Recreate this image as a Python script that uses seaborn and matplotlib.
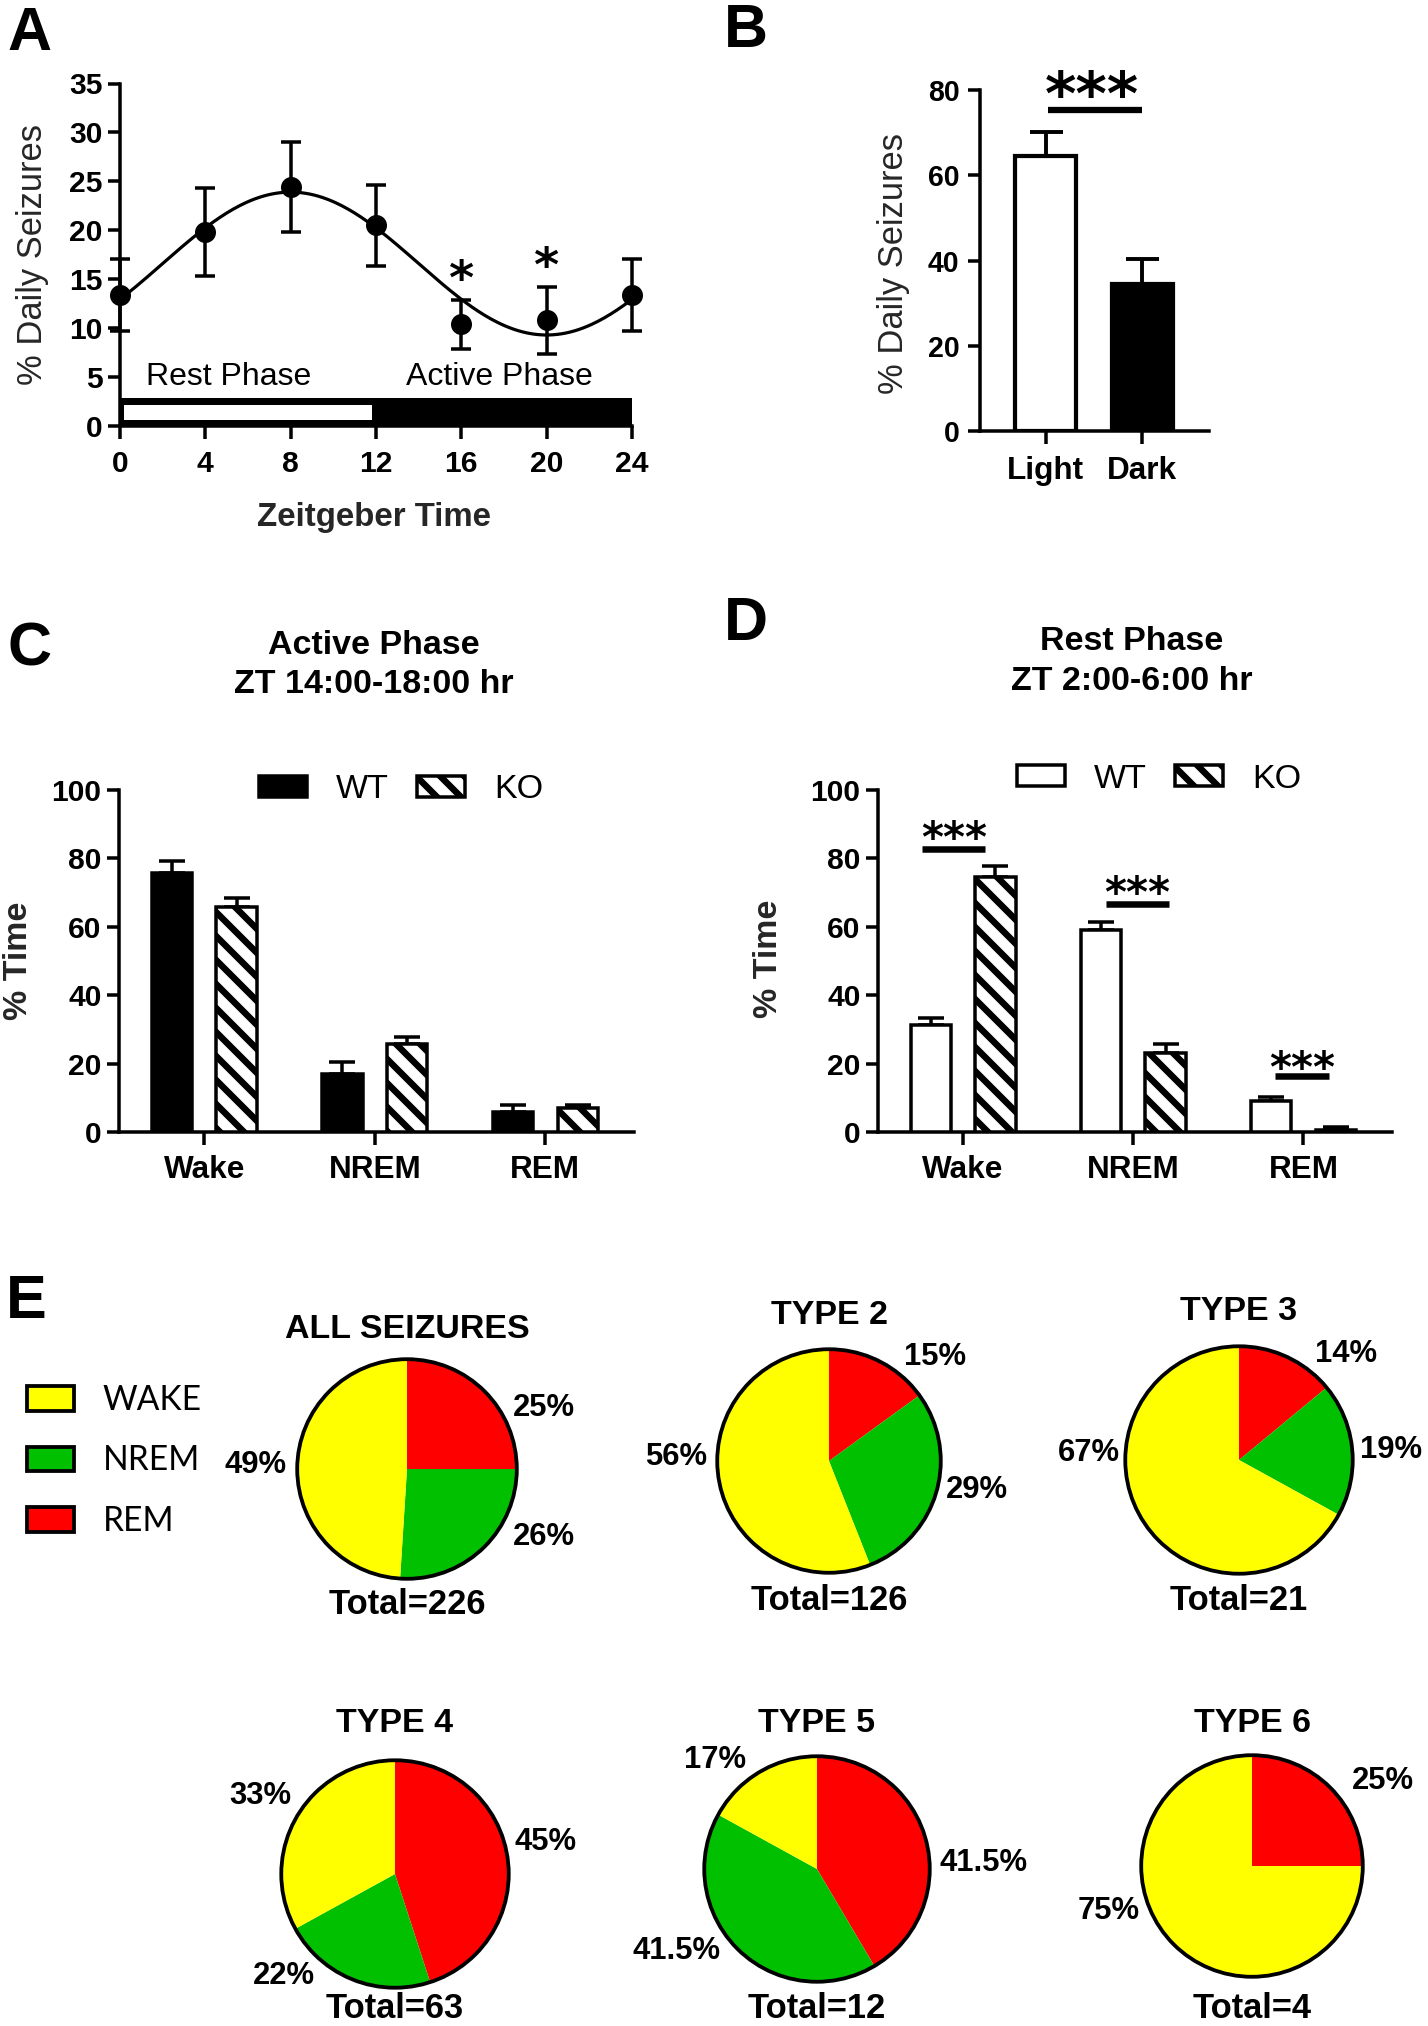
import numpy as np
import pandas as pd
import matplotlib
matplotlib.use("Agg")
import matplotlib.pyplot as plt
import seaborn as sns
from matplotlib.patches import Patch, Rectangle, Circle

# ---------------- DATA ----------------
# Panel A: % daily seizures by Zeitgeber time (mean, SEM)
zt_hours = [0, 4, 8, 12, 16, 20, 24]
seizure_pct = [13.4, 19.8, 24.4, 20.5, 10.4, 10.8, 13.4]
seizure_sem = [3.7, 4.5, 4.6, 4.1, 2.5, 3.4, 3.7]
sig_zt = [16, 20]
# cosinor fit drawn through the points (parameters)
cosinor_mesor = 16.6
cosinor_amplitude = 7.3
cosinor_acrophase = 8.0
cosinor_period = 24.0
rest_phase = (0, 12)
active_phase = (12, 24)

# Panel B
ld_labels = ["Light", "Dark"]
ld_pct = [64.5, 34.4]
ld_sem = [5.6, 5.9]

# Panels C & D
states = ["Wake", "NREM", "REM"]
active_wt = [75.8, 16.9, 5.8]
active_wt_sem = [3.3, 3.7, 2.0]
active_ko = [65.9, 25.8, 7.0]
active_ko_sem = [2.4, 2.1, 0.9]
rest_wt = [31.4, 59.1, 9.1]
rest_wt_sem = [2.0, 2.3, 1.0]
rest_ko = [74.7, 23.0, 0.6]
rest_ko_sem = [3.0, 2.8, 0.9]

# Panel E
pie_titles = ["ALL SEIZURES", "TYPE 2", "TYPE 3", "TYPE 4", "TYPE 5", "TYPE 6"]
pie_totals = [226, 126, 21, 63, 12, 4]
pie_rem = [25, 15, 14, 45, 41.5, 25]
pie_nrem = [26, 29, 19, 22, 41.5, 0]
pie_wake = [49, 56, 67, 33, 17, 75]
sleep_labels = ["WAKE", "NREM", "REM"]

# ---------------- STYLE / LAYOUT ----------------
# figure at 72 dpi, so every size in points equals pixels
sns.set_style("ticks")
plt.rcParams.update({
    "font.family": ["Liberation Sans", "DejaVu Sans"],
    "axes.linewidth": 3.5,
    "axes.edgecolor": "black",
    "xtick.major.width": 3.5,
    "ytick.major.width": 3.5,
    "xtick.major.size": 12.5,
    "ytick.major.size": 12.5,
    "xtick.color": "black",
    "ytick.color": "black",
    "text.color": "black",
    "hatch.linewidth": 6.5,
    "hatch.color": "black",
})

W, H = 1428, 2026
DPI = 72
fig = plt.figure(figsize=(W / DPI, H / DPI), dpi=DPI)


def rect(l, t, r, b):
    return [l / W, 1 - b / H, (r - l) / W, (b - t) / H]


YELLOW, GREEN, RED = "#FFFF00", "#00C000", "#FF0000"
STAR = dict(family="DejaVu Sans", fontweight="bold", ha="center", va="baseline")


def stars(ax, x, y, text, size):
    ax.annotate(text, xy=(x, y), xytext=(0, -0.57 * size), textcoords="offset points",
                fontsize=size, annotation_clip=False, **STAR)


def letter(x, baseline, s):
    fig.text(x / W, 1 - baseline / H, s, fontsize=61, fontweight="bold", va="baseline", ha="left")


# ---------------- PANEL A ----------------
axA = fig.add_axes(rect(120, 83.5, 632, 426))
grid = np.linspace(0, 24, 241)
fit = cosinor_mesor + cosinor_amplitude * np.cos(2 * np.pi * (grid - cosinor_acrophase) / cosinor_period)
bar_h = 2.86
axA.add_patch(Rectangle((rest_phase[0], 0), active_phase[1] - rest_phase[0], bar_h,
                        facecolor="black", edgecolor="none", zorder=2, clip_on=False))
axA.add_patch(Rectangle((rest_phase[0] + 0.2, 0.6), rest_phase[1] - rest_phase[0] - 0.4, 1.55,
                        facecolor="white", edgecolor="none", zorder=2.1))
sns.lineplot(x=grid, y=fit, ax=axA, color="black", linewidth=3.2, zorder=3)
axA.errorbar(zt_hours, seizure_pct, yerr=seizure_sem, fmt="none", ecolor="black",
             elinewidth=3.5, capsize=9.7, capthick=3.5, clip_on=False, zorder=4)
sns.scatterplot(x=zt_hours, y=seizure_pct, ax=axA, color="black", s=441, edgecolor="black",
                linewidth=0, zorder=5, clip_on=False)
for z in sig_zt:
    i = zt_hours.index(z)
    stars(axA, z, seizure_pct[i] + seizure_sem[i] + 3.4, "*", 48)
axA.text(5.1, 4.2, "Rest Phase", fontsize=32, ha="center", va="baseline")
axA.text(17.8, 4.2, "Active Phase", fontsize=32, ha="center", va="baseline")
axA.set_xlim(0, 24)
axA.set_ylim(0, 35)
axA.set_xticks(zt_hours)
axA.set_yticks(range(0, 36, 5))
axA.tick_params(axis="x", labelsize=30, pad=12)
axA.tick_params(axis="y", labelsize=30, pad=5)
for lab in axA.get_xticklabels() + axA.get_yticklabels():
    lab.set_fontweight("bold")
axA.set_xlabel("Zeitgeber Time", fontsize=33, fontweight="bold")
axA.xaxis.set_label_coords(0.496, -0.222)
axA.set_ylabel("% Daily Seizures", fontsize=34.5)
axA.yaxis.set_label_coords(-0.139, 0.5)
sns.despine(ax=axA)

# ---------------- PANEL B ----------------
axB = fig.add_axes(rect(980, 90, 1209, 431))
sns.barplot(x=ld_labels, y=ld_pct, hue=ld_labels, palette=["white", "black"], edgecolor="black",
            linewidth=4.2, width=0.63, errorbar=None, legend=False, ax=axB, zorder=3)
for bar, sem in zip(axB.patches, ld_sem):
    xc = bar.get_x() + bar.get_width() / 2
    axB.errorbar(xc, bar.get_height(), yerr=[[0], [sem]], fmt="none", ecolor="black",
                 elinewidth=3.9, capsize=16.5, capthick=3.9, zorder=2)
axB.plot([0.02, 1.0], [75.4, 75.4], color="black", lw=6.3, solid_capstyle="butt", clip_on=False)
stars(axB, 0.48, 82.2, "***", 60)
axB.set_xlim(-0.68, 1.69)
axB.set_ylim(0, 80)
axB.set_yticks(range(0, 81, 20))
axB.tick_params(axis="x", labelsize=31.5, pad=12.5)
axB.tick_params(axis="y", labelsize=28.5, pad=8)
for lab in axB.get_xticklabels() + axB.get_yticklabels():
    lab.set_fontweight("bold")
axB.set_ylabel("% Daily Seizures", fontsize=34.5)
axB.yaxis.set_label_coords(-0.306, 0.49)
axB.set_xlabel("")
sns.despine(ax=axB)


# ---------------- PANELS C & D ----------------
def sleep_panel(ax, wt, wt_sem, ko, ko_sem, wt_color, legend_anchor):
    df = pd.DataFrame({"state": states * 2,
                       "genotype": ["WT"] * 3 + ["KO"] * 3,
                       "pct": list(wt) + list(ko)})
    sns.barplot(data=df, x="state", y="pct", hue="genotype", hue_order=["WT", "KO"],
                palette={"WT": wt_color, "KO": "white"}, edgecolor="black", linewidth=3.5,
                width=0.76, gap=0.376, errorbar=None, legend=False, ax=ax, zorder=3)
    for bar in ax.containers[1]:
        bar.set_hatch("\\")
    for cont, sems in zip(ax.containers, [wt_sem, ko_sem]):
        for bar, sem in zip(cont, sems):
            xc = bar.get_x() + bar.get_width() / 2
            ax.errorbar(xc, bar.get_height(), yerr=[[0], [sem]], fmt="none", ecolor="black",
                        elinewidth=3.5, capsize=13, capthick=3.5, zorder=2)
    ax.set_xlim(-0.5, 2.52)
    ax.set_ylim(0, 100)
    ax.set_yticks(range(0, 101, 20))
    ax.tick_params(axis="x", labelsize=31.5, pad=11)
    ax.tick_params(axis="y", labelsize=30, pad=5)
    for lab in ax.get_xticklabels() + ax.get_yticklabels():
        lab.set_fontweight("bold")
    ax.set_xlabel("")
    ax.set_ylabel("% Time", fontsize=34, fontweight="bold")
    handles = [Patch(facecolor=wt_color, edgecolor="black", linewidth=3.5, label="WT"),
               Patch(facecolor="white", edgecolor="black", linewidth=3.5, hatch="\\", label="KO")]
    fig.legend(handles=handles, loc="center left", bbox_to_anchor=legend_anchor, ncol=2,
               frameon=False, fontsize=34, handlelength=1.4, handleheight=0.6,
               handletextpad=0.85, columnspacing=0.85, borderpad=0, borderaxespad=0)
    sns.despine(ax=ax)


axC = fig.add_axes(rect(119, 790, 634, 1132))
sleep_panel(axC, active_wt, active_wt_sem, active_ko, active_ko_sem, "black",
            (259 / W, 1 - 790 / H))
axC.yaxis.set_label_coords(-0.165, 0.5)

axD = fig.add_axes(rect(878, 790, 1392, 1132))
sleep_panel(axD, rest_wt, rest_wt_sem, rest_ko, rest_ko_sem, "white",
            (1017 / W, 1 - 779 / H))
axD.yaxis.set_label_coords(-0.183, 0.505)
# significance markers (D)
sig_spans = [(-0.24, 0.13), (-0.16, 0.21), (-0.17, 0.15)]
sig_line_y = [82.8, 66.6, 16.5]
sig_star_y = [89.0, 72.7, 21.7]
for k, ((a, b), ly, sy) in enumerate(zip(sig_spans, sig_line_y, sig_star_y)):
    axD.plot([k + a, k + b], [ly, ly], color="black", lw=6.5, solid_capstyle="butt")
    stars(axD, k + (a + b) / 2, sy, "***", 42)

fig.text(374 / W, 1 - 645 / H, "Active Phase", fontsize=34, fontweight="bold", ha="center", va="center")
fig.text(374 / W, 1 - 685 / H, "ZT 14:00-18:00 hr", fontsize=34, fontweight="bold", ha="center", va="center")
fig.text(1132 / W, 1 - 641 / H, "Rest Phase", fontsize=34, fontweight="bold", ha="center", va="center")
fig.text(1132 / W, 1 - 681 / H, "ZT 2:00-6:00 hr", fontsize=34, fontweight="bold", ha="center", va="center")

# ---------------- PANEL E ----------------
pie_centers = [(407, 1469), (829, 1461), (1239, 1460), (395, 1874), (817, 1869), (1252, 1866)]
pie_radius = [112, 114, 116, 116, 115, 113]
title_y = [1330, 1315, 1312, 1724, 1724, 1724]
total_y = [1605, 1600, 1600, 2009, 2009, 2009]
# label offsets (in pie radii) for REM, NREM, WAKE
label_offsets = [
    [(1.25, 0.56), (1.25, -0.62), (-1.38, 0.04)],
    [(0.95, 0.93), (1.32, -0.26), (-1.37, 0.04)],
    [(0.94, 0.93), (1.34, 0.09), (-1.32, 0.06)],
    [(1.32, 0.28), (-0.98, -0.90), (-1.18, 0.69)],
    [(1.48, 0.05), (-1.25, -0.73), (-0.90, 0.97)],
    [(1.18, 0.77), (0, 0), (-1.29, -0.41)],
]
for i in range(len(pie_titles)):
    cx, cy = pie_centers[i]
    r = pie_radius[i]
    axp = fig.add_axes(rect(cx - r, cy - r, cx + r, cy + r))
    vals = [pie_rem[i], pie_nrem[i], pie_wake[i]]
    axp.pie(vals, colors=[RED, GREEN, YELLOW], startangle=90, counterclock=False, radius=1,
            wedgeprops=dict(linewidth=0))
    axp.add_patch(Circle((0, 0), 1, fill=False, edgecolor="black", linewidth=3.8, zorder=5))
    axp.set_xlim(-1.02, 1.02)
    axp.set_ylim(-1.02, 1.02)
    axp.set_aspect("equal")
    axp.axis("off")
    for v, (dx, dy) in zip(vals, label_offsets[i]):
        if v > 0:
            axp.text(dx, dy, f"{v:g}%", fontsize=31, fontweight="bold", ha="center", va="center",
                     clip_on=False)
    fig.text(cx / W, 1 - title_y[i] / H, pie_titles[i], fontsize=34, fontweight="bold",
             ha="center", va="center")
    fig.text(cx / W, 1 - total_y[i] / H, f"Total={pie_totals[i]}", fontsize=34.5, fontweight="bold",
             ha="center", va="center")

leg_handles = [Patch(facecolor=c, edgecolor="black", linewidth=3.8, label=l)
               for c, l in zip([YELLOW, GREEN, RED], sleep_labels)]
fig.legend(handles=leg_handles, loc="upper left", bbox_to_anchor=(27 / W, 1 - 1384 / H),
           frameon=False, prop=dict(family="Lato", size=33.5), handlelength=1.4,
           handleheight=0.75, handletextpad=0.85, labelspacing=0.85, borderpad=0, borderaxespad=0)

# panel letters
letter(7, 50, "A")
letter(724, 47, "B")
letter(8, 666, "C")
letter(724, 640, "D")
letter(6, 1318, "E")

fig.savefig("out.png", dpi=DPI)
